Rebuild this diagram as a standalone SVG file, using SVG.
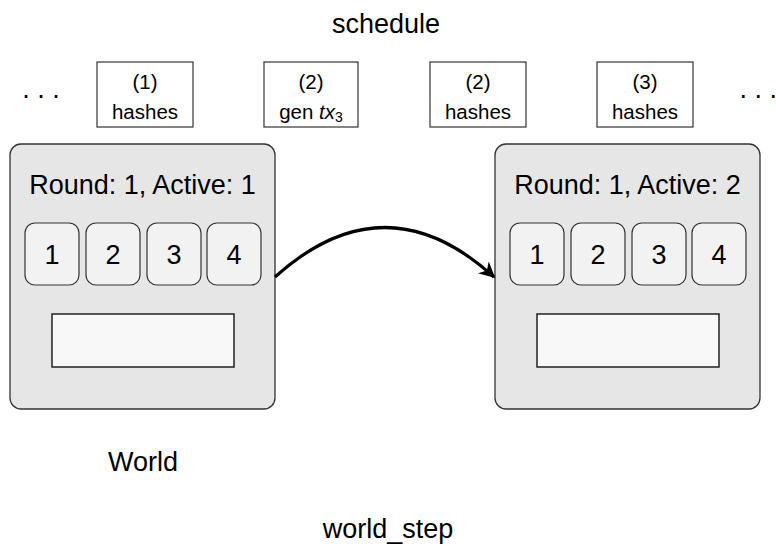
<svg xmlns="http://www.w3.org/2000/svg" width="776" height="546" viewBox="0 0 776 546">
<style>
text{font-family:"Liberation Sans",Arial,sans-serif;fill:#000}
.big{font-size:27px;text-anchor:middle}
.sm{font-size:20.5px;text-anchor:middle}
.sched{fill:#fff;stroke:#333;stroke-width:1.2}
.world{fill:#e6e6e6;stroke:#333;stroke-width:1.3}
.slot{fill:#f2f2f2;stroke:#333;stroke-width:1.2}
.inner{fill:#f8f8f8;stroke:#222;stroke-width:1.5}
</style>
<defs>
<marker id="ah" viewBox="0 0 10 10" refX="9" refY="5" markerWidth="5" markerHeight="5" orient="auto" markerUnits="strokeWidth">
<path d="M0,0 L10,5 L0,10 L3,5 z" fill="#000"/>
</marker>
</defs>
<text class="big" x="386" y="33">schedule</text>
<g id="dots-left"><text class="big" x="41" y="98">. . .</text></g>
<g id="s1"><rect class="sched" x="97" y="62" width="96" height="65"/><text class="sm" x="145" y="89">(1)</text><text class="sm" x="145" y="119">hashes</text></g>
<g id="s2"><rect class="sched" x="264" y="62" width="94" height="65"/><text class="sm" x="311" y="89">(2)</text><text class="sm" x="311" y="119">gen <tspan font-style="italic">tx</tspan><tspan font-size="14" dy="3">3</tspan></text></g>
<g id="s3"><rect class="sched" x="430" y="62" width="96" height="65"/><text class="sm" x="478" y="89">(2)</text><text class="sm" x="478" y="119">hashes</text></g>
<g id="s4"><rect class="sched" x="597" y="62" width="96" height="65"/><text class="sm" x="645" y="89">(3)</text><text class="sm" x="645" y="119">hashes</text></g>
<g id="dots-right"><text class="big" x="777" y="98" style="text-anchor:end">. . .</text></g>
<g id="world1">
<rect class="world" x="10" y="144" width="265" height="265" rx="11"/>
<text class="big" x="142.5" y="194">Round: 1, Active: 1</text>
<rect class="slot" x="25" y="223" width="54" height="62" rx="10"/><text class="big" x="52" y="264">1</text>
<rect class="slot" x="86" y="223" width="54" height="62" rx="10"/><text class="big" x="113" y="264">2</text>
<rect class="slot" x="147" y="223" width="54" height="62" rx="10"/><text class="big" x="174" y="264">3</text>
<rect class="slot" x="207" y="223" width="54" height="62" rx="10"/><text class="big" x="234" y="264">4</text>
<rect class="inner" x="52" y="314" width="182" height="53"/>
</g>
<g id="world2">
<rect class="world" x="495" y="144" width="265" height="265" rx="11"/>
<text class="big" x="627.5" y="194">Round: 1, Active: 2</text>
<rect class="slot" x="510" y="223" width="54" height="62" rx="10"/><text class="big" x="537" y="264">1</text>
<rect class="slot" x="571" y="223" width="54" height="62" rx="10"/><text class="big" x="598" y="264">2</text>
<rect class="slot" x="632" y="223" width="54" height="62" rx="10"/><text class="big" x="659" y="264">3</text>
<rect class="slot" x="692" y="223" width="54" height="62" rx="10"/><text class="big" x="719" y="264">4</text>
<rect class="inner" x="537" y="314" width="182" height="53"/>
</g>
<g id="connectors">
<path d="M275,277 Q385,178 494,277" fill="none" stroke="#000" stroke-width="3.2" marker-end="url(#ah)"/>
</g>
<text class="big" x="143" y="471">World</text>
<text class="big" x="388" y="538">world_step</text>
</svg>
